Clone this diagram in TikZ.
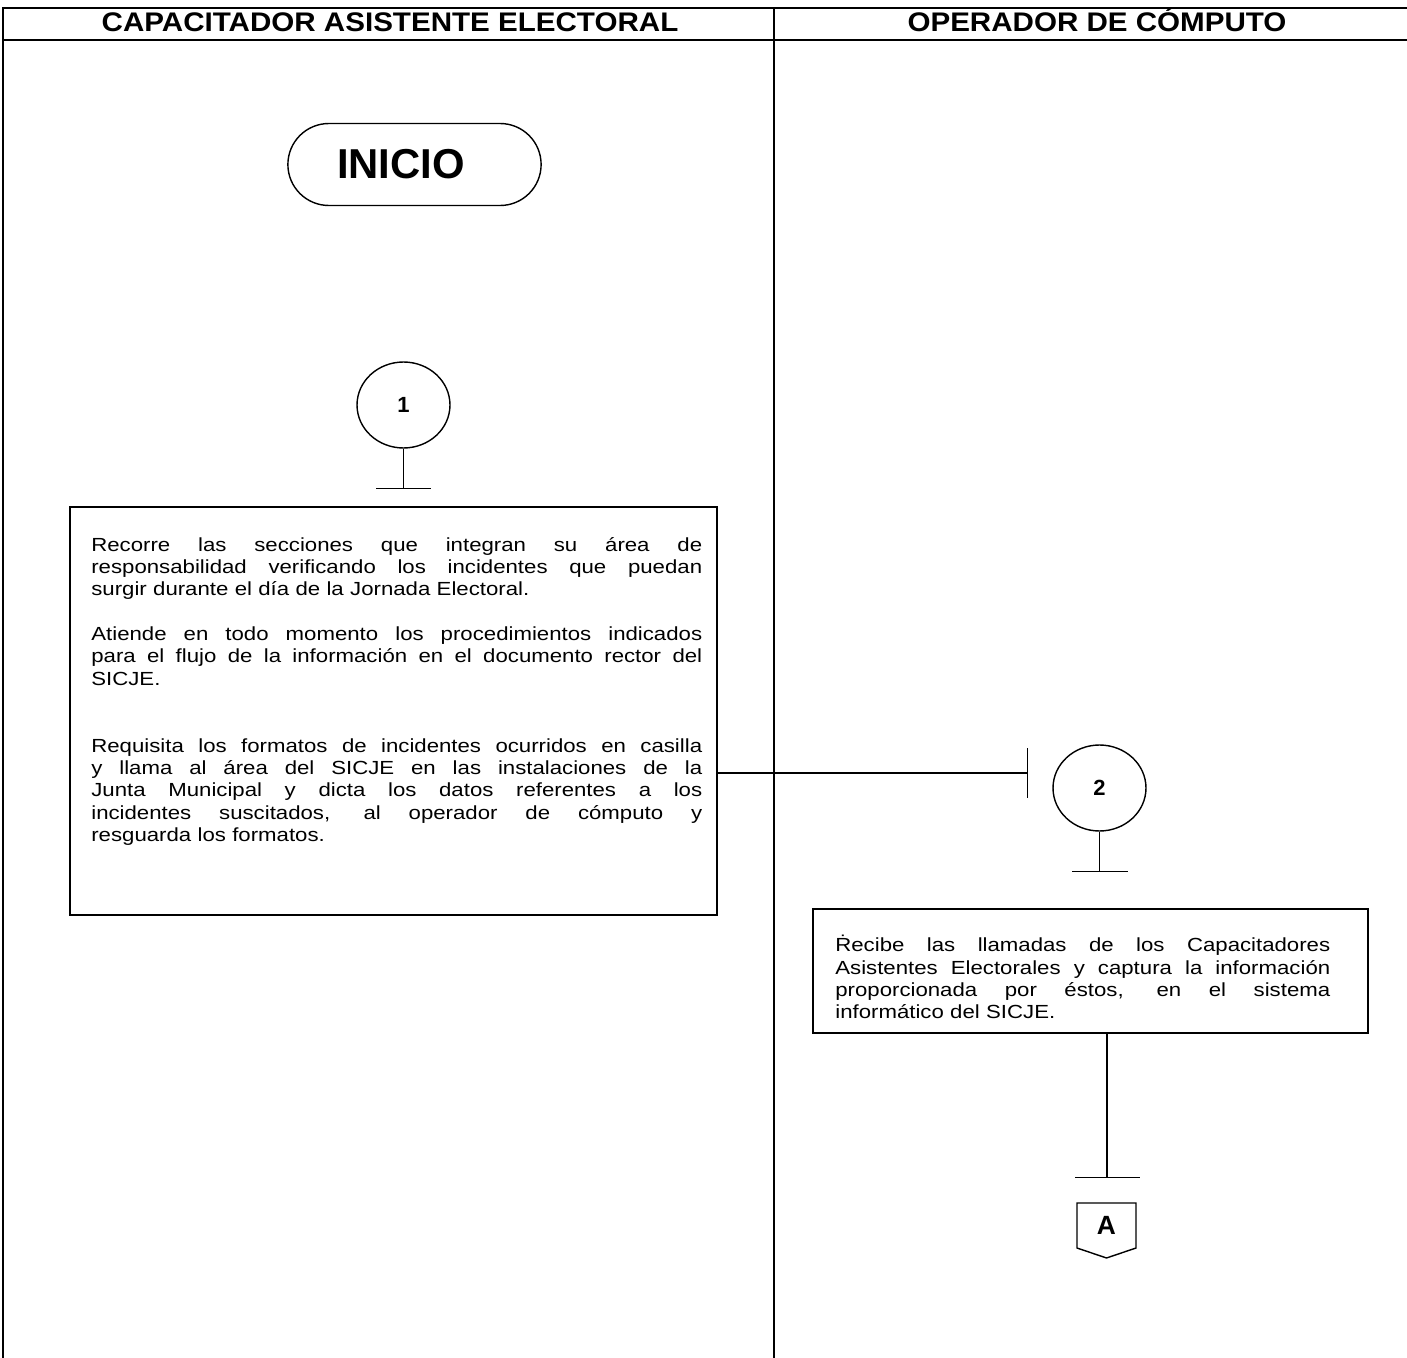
\documentclass[tikz,border=0pt]{standalone}
\usepackage{fontspec}
\setmainfont{Liberation Sans}
\newfontfamily\headfont[FakeStretch=1.1]{Liberation Sans}
\newfontfamily\bodyfont[FakeStretch=1.17]{Liberation Sans}
\usetikzlibrary{arrows.meta,positioning,shapes.geometric,shapes.misc,calc}
\tikzset{
  frame/.style={line width=1.1pt},
  procbox/.style={draw, line width=0.9pt, inner sep=0pt},
  blocktext/.style={anchor=north west, inner sep=0pt, font=\bodyfont\fontsize{10.8}{12.7}\selectfont},
  terminal/.style={draw, rounded rectangle, line width=0.8pt, minimum width=5.3cm, minimum height=1.64cm, font=\fontsize{23.8}{26}\selectfont\bfseries},
  pagecon/.style={draw, ellipse, line width=0.8pt, minimum width=1.86cm, minimum height=1.72cm, inner sep=0pt, font=\fontsize{12.5}{14}\selectfont\bfseries},
  colhead/.style={anchor=base, inner sep=0pt, font=\headfont\fontsize{15.3}{18}\selectfont\bfseries},
  tbar/.style={-{Bar[width=#1]}, line width=0.8pt}
}
% one justified line, one ragged line, one empty line
\newcommand{\jrow}[1]{{\leftskip=0pt\rightskip=0pt\parfillskip=0pt
  \spaceskip=\fontdimen2\font plus 1fil\relax #1\par}}
\newcommand{\lrow}[1]{{#1\par}}
\newcommand{\erow}{\mbox{}\par}

\begin{document}
\begin{tikzpicture}[x=0.02cm, y=-0.02cm]
  \useasboundingbox (0,0) rectangle (1407,1358);

  % lanes
  \draw[frame] (3,1358) -- (3,8) -- (1407,8);
  \draw[frame] (3,40) -- (1407,40);
  \draw[frame] (774,8) -- (774,1358);
  \node[colhead] (headcae) at (390,31.5) {CAPACITADOR ASISTENTE ELECTORAL};
  \node[colhead] (headop) at (1097,31.5) {OPERADOR DE CÓMPUTO};

  \node[terminal] (inicio) at (414.5,164.5) {INICIO\kern0.54cm};

  \node[pagecon] (c1) at (403.5,405) {1};
  \coordinate (t1) at (403.5,489);
  \draw[tbar=1.1cm] (c1.south) -- (t1);

  \node[procbox, minimum width=12.94cm, minimum height=8.16cm] (box1) at (393.5,711) {};
  \node[blocktext, text width=12.22cm] (txt1) at (91,537) {%
\jrow{Recorre las secciones que integran su área de}
\jrow{responsabilidad verificando los incidentes que puedan}
\lrow{surgir durante el día de la Jornada Electoral.}
\erow
\jrow{Atiende en todo momento los procedimientos indicados}
\jrow{para el flujo de la información en el documento rector del}
\lrow{SICJE.}
\erow
\erow
\jrow{Requisita los formatos de incidentes ocurridos en casilla}
\jrow{y llama al área del SICJE en las instalaciones de la}
\jrow{Junta Municipal y dicta los datos referentes a los}
\jrow{incidentes suscitados, al operador de cómputo y}
\lrow{resguarda los formatos.}};

  \coordinate (t2) at (1028,773);
  \draw[tbar=1cm] (box1.east |- t2) -- (t2);

  \node[pagecon] (c2) at (1099.5,788) {2};
  \coordinate (t3) at (1099.5,872);
  \draw[tbar=1.12cm] (c2.south) -- (t3);

  \node[procbox, minimum width=11.1cm, minimum height=2.48cm] (box2) at (1090.5,971) {};
  \node[blocktext, text width=9.9cm] (txt2) at (835,935) {%
\jrow{Ṙecibe las llamadas de los Capacitadores}
\jrow{Asistentes Electorales y captura la información}
\jrow{proporcionada por éstos, en el sistema}
\lrow{informático del SICJE.}};

  \coordinate (t4) at (1107,1178);
  \draw[tbar=1.3cm] (t4 |- box2.south) -- (t4);

  % off-page connector
  \node[font=\fontsize{15}{17}\selectfont\bfseries] (conA) at (1106.5,1225) {A};
  \draw[line width=0.8pt] ($(conA)+(-29.5,-22)$) -- ++(59,0) -- ++(0,45) -- ++(-29.5,10) -- ++(-29.5,-10) -- cycle;
\end{tikzpicture}
\end{document}
